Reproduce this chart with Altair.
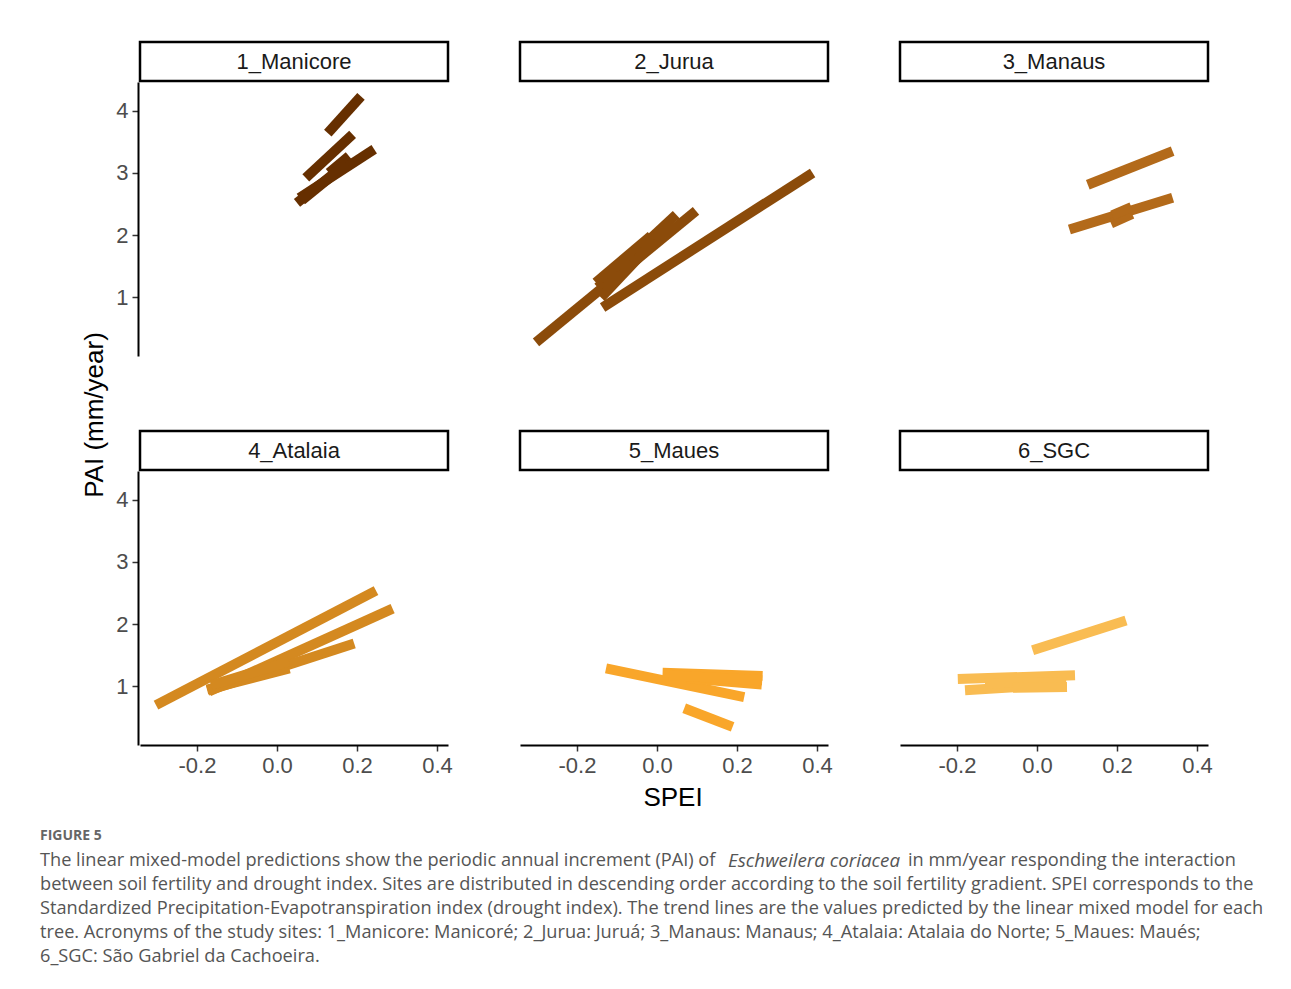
import altair as alt
import pandas as pd

# ---------------- data ----------------
sites = ["1_Manicore", "2_Jurua", "3_Manaus", "4_Atalaia", "5_Maues", "6_SGC"]
site_colors = ["#662F00", "#8B4B0A", "#B36A1A", "#D48920", "#F9A62A", "#F9BC52"]

# one predicted trend line per tree
tree_site = (["1_Manicore"] * 6 + ["2_Jurua"] * 5 + ["3_Manaus"] * 4 +
             ["4_Atalaia"] * 5 + ["5_Maues"] * 5 + ["6_SGC"] * 5)
spei_start = [0.127, 0.072, 0.130, 0.056, 0.050, 0.062,
              -0.3025, -0.136, -0.148, -0.153, -0.140,
              0.127, 0.081, 0.185, 0.188,
              -0.3025, -0.170, -0.173, -0.175, -0.165,
              -0.1275, 0.014, 0.075, 0.030, 0.068,
              -0.011, -0.198, -0.180, -0.130, -0.060]
pai_start = [3.64, 2.92, 3.00, 2.60, 2.52, 2.56,
             0.28, 0.84, 1.16, 1.24, 1.00,
             2.81, 2.09, 2.19, 2.32,
             0.70, 0.92, 0.93, 0.95, 1.02,
             1.29, 1.22, 1.13, 1.18, 0.65,
             1.58, 1.12, 0.94, 1.05, 0.98]
spei_end = [0.210, 0.189, 0.180, 0.243, 0.160, 0.175,
            0.0975, 0.389, 0.048, -0.015, -0.030,
            0.339, 0.339, 0.238, 0.236,
            0.2475, 0.289, 0.193, 0.031, 0.030,
            0.218, 0.264, 0.262, 0.263, 0.189,
            0.2225, 0.095, 0.072, 0.073, 0.075]
pai_end = [4.23, 3.62, 3.27, 3.38, 3.08, 3.15,
           2.39, 3.00, 2.33, 1.99, 1.75,
           3.35, 2.60, 2.34, 2.45,
           2.54, 2.25, 1.69, 1.29, 1.40,
           0.83, 1.17, 1.03, 1.10, 0.35,
           2.06, 1.18, 1.04, 1.07, 0.99]

x_ticks = [-0.2, 0.0, 0.2, 0.4]
y_ticks = [1, 2, 3, 4]
x_title = "SPEI"
y_title = "PAI (mm/year)"

fig_label = "FIGURE 5"
caption_lines = [
    "between soil fertility and drought index. Sites are distributed in descending order according to the soil fertility gradient. SPEI corresponds to the",
    "Standardized Precipitation-Evapotranspiration index (drought index). The trend lines are the values predicted by the linear mixed model for each",
    "tree. Acronyms of the study sites: 1_Manicore: Manicoré; 2_Jurua: Juruá; 3_Manaus: Manaus; 4_Atalaia: Atalaia do Norte; 5_Maues: Maués;",
    "6_SGC: São Gabriel da Cachoeira.",
]
caption_first = ["The linear mixed-model predictions show the periodic annual increment (PAI) of ",
                 "Eschweilera coriacea",
                 " in mm/year responding the interaction"]

# ---------------- table ----------------
rows = []
for i, s in enumerate(tree_site):
    rows.append({"kind": "line", "site": s, "tree": i, "spei": spei_start[i], "pai": pai_start[i]})
    rows.append({"kind": "line", "site": s, "tree": i, "spei": spei_end[i], "pai": pai_end[i]})
for s in sites:
    rows.append({"kind": "strip", "site": s, "tree": -1, "spei": None, "pai": None})
df = pd.DataFrame(rows)

W, H = 308, 274
FONT = "Liberation Sans"
CAP_FONT = "Open Sans"

lines = alt.Chart().transform_filter("datum.kind == 'line'").mark_line(
    strokeWidth=10, strokeCap="butt", strokeJoin="bevel"
).encode(
    x=alt.X("spei:Q", scale=alt.Scale(domain=[-0.3425, 0.4275], nice=False, zero=False),
            axis=alt.Axis(values=x_ticks, title=None,
                          labelExpr="datum.value < 0 ? '-' + format(-datum.value, '.1f') : format(datum.value, '.1f')")),
    y=alt.Y("pai:Q", scale=alt.Scale(domain=[0.06, 4.46], nice=False, zero=False),
            axis=alt.Axis(values=y_ticks, title=None)),
    color=alt.Color("site:N", scale=alt.Scale(domain=sites, range=site_colors), legend=None),
    detail="tree:N",
)

strip_rect = alt.Chart().transform_filter("datum.kind == 'strip'").mark_rect(
    fill="white", stroke="black", strokeWidth=2.5
).encode(x=alt.value(0), x2=alt.value(W), y=alt.value(-40), y2=alt.value(-1))

strip_text = alt.Chart().transform_filter("datum.kind == 'strip'").mark_text(
    font=FONT, fontSize=22, color="#1A1A1A", baseline="middle", align="center"
).encode(x=alt.value(W / 2), y=alt.value(-20), text="site:N")

facet = alt.layer(lines, strip_rect, strip_text, data=df).properties(
    width=W, height=H
).facet(
    facet=alt.Facet("site:N", sort=sites, title=None,
                    header=alt.Header(labels=False, labelExpr="''", labelFontSize=1,
                                      labelPadding=0, titlePadding=0)),
    columns=3,
    spacing={"row": 72, "column": 68},
)

ytitle = alt.Chart(pd.DataFrame({"t": [y_title]})).mark_text(
    font=FONT, fontSize=26, angle=270, color="black", baseline="middle", align="center"
).encode(x=alt.value(87), y=alt.value(333), text="t:N").properties(width=107, height=703)


def txt(t, x, y, size, color, align="left", weight="normal", style="normal", font=CAP_FONT):
    return alt.Chart(pd.DataFrame({"t": [t]})).mark_text(
        font=font, fontSize=size, color=color, align=align, baseline="middle",
        fontWeight=weight, fontStyle=style
    ).encode(x=alt.value(x), y=alt.value(y), text="t:N")


CAP = 18.2
cap_layers = [
    txt(x_title, 665, 12, 26, "black", align="center", font=FONT),
    txt(fig_label, 32, 50, 14, "#666666", weight="bold"),
    txt(caption_first[0], 32, 75, CAP, "#555555"),
    txt(caption_first[1], 720, 75, 18.8, "#555555", style="italic"),
    txt(caption_first[2], 900, 75, CAP, "#555555"),
]
for k, line in enumerate(caption_lines):
    cap_layers.append(txt(line, 32, 99 + 24 * k, CAP, "#555555"))

caption = alt.layer(*cap_layers).properties(width=1270, height=190)

chart = alt.vconcat(
    alt.hconcat(ytitle, facet, spacing=0),
    caption,
    spacing=0,
).properties(
    padding={"top": 31, "left": 0, "right": 0, "bottom": 0}
).configure_view(strokeWidth=0).configure_axis(
    labelFont=FONT, labelFontSize=22, labelColor="#4D4D4D",
    tickColor="#333333", tickSize=6, tickWidth=1.5,
    domainColor="black", domainWidth=2, grid=False, labelPadding=4, labelFlush=False,
).configure_header(
    labels=False, labelExpr="''", labelFontSize=1, labelPadding=0, titlePadding=0
).configure_headerFacet(
    labels=False, labelExpr="''", labelFontSize=1, labelPadding=0, titlePadding=0
)

chart.save("out.html", embed_options={"renderer": "svg", "actions": False})
